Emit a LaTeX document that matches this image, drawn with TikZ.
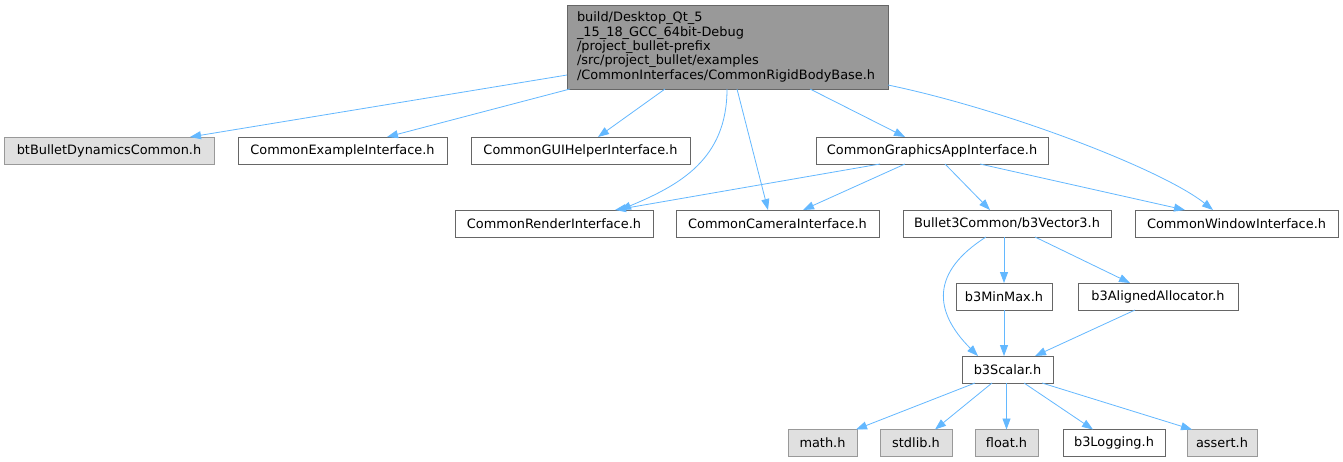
\documentclass[tikz,border=0pt]{standalone}
\usepackage{fontspec}
\setmainfont{DejaVu Sans}
\usetikzlibrary{arrows.meta}
\definecolor{edgecol}{HTML}{63B8FF}
\definecolor{rootfill}{HTML}{999999}
\definecolor{darkline}{HTML}{666666}
\definecolor{sysfill}{HTML}{E0E0E0}
\definecolor{sysline}{HTML}{999999}
\begin{document}
\begin{tikzpicture}[x=1pt,y=-1pt,
  every node/.style={font=\fontsize{12.9}{14.4}\selectfont, inner sep=0pt, outer sep=0pt},
  filebox/.style={draw=darkline, fill=white, line width=0.9pt, minimum height=27pt},
  sysbox/.style={draw=sysline, fill=sysfill, line width=0.9pt, minimum height=27pt},
  rootbox/.style={draw=darkline, fill=rootfill, line width=0.9pt, minimum height=84pt, minimum width=321pt, align=left, text width=301pt},
  dep/.style={draw=edgecol, line width=0.8pt, -{Triangle[length=11pt,width=8pt]}, fill=none}]
\useasboundingbox (0,0) rectangle (1343,461);
\fill[white] (0,0) rectangle (1343,461);

\node[rootbox] (root) at (727.5,47) {build/Desktop\_Qt\_5\\\_15\_18\_GCC\_64bit-Debug\\/project\_bullet-prefix\\/src/project\_bullet/examples\\/CommonInterfaces/CommonRigidBodyBase.h};

\node[sysbox, minimum width=210pt] (bt) at (109,150.5) {btBulletDynamicsCommon.h};
\node[filebox, minimum width=209pt] (cei) at (342.5,150.5) {CommonExampleInterface.h};
\node[filebox, minimum width=219pt] (cgui) at (580.5,150.5) {CommonGUIHelperInterface.h};
\node[filebox, minimum width=232pt] (cgai) at (932,150.5) {CommonGraphicsAppInterface.h};

\node[filebox, minimum width=198pt] (cri) at (554,223.5) {CommonRenderInterface.h};
\node[filebox, minimum width=203pt] (cci) at (777.5,223.5) {CommonCameraInterface.h};
\node[filebox, minimum width=208pt] (vec) at (1007,223.5) {Bullet3Common/b3Vector3.h};
\node[filebox, minimum width=203pt] (cwi) at (1236.5,223.5) {CommonWindowInterface.h};

\node[filebox, minimum width=96pt] (minmax) at (1004,296.5) {b3MinMax.h};
\node[filebox, minimum width=160pt] (alloc) at (1158,296.5) {b3AlignedAllocator.h};

\node[filebox, minimum width=91pt] (scalar) at (1007.5,369.5) {b3Scalar.h};

\node[sysbox, minimum width=69pt] (math) at (822.5,443) {math.h};
\node[sysbox, minimum width=72pt] (stdlib) at (916,443) {stdlib.h};
\node[sysbox, minimum width=63pt] (float) at (1006.5,443) {float.h};
\node[filebox, minimum width=102pt] (logging) at (1114,443) {b3Logging.h};
\node[sysbox, minimum width=70pt] (assert) at (1222,443) {assert.h};

% edges from root
\draw[dep] ([yshift=-28pt]root.west) -- ([xshift=186pt]bt.north west);
\draw[dep] ([xshift=3pt]root.south west) -- ([xshift=149pt]cei.north west);
\draw[dep] ([xshift=98pt]root.south west) -- ([xshift=127pt]cgui.north west);
\draw[dep] ([xshift=160pt]root.south west) .. controls +(0,70) and +(60,-25) .. ([xshift=165pt]cri.north west);
\draw[dep] ([xshift=170pt]root.south west) -- ([xshift=92pt]cci.north west);
\draw[dep] ([xshift=243pt]root.south west) -- ([xshift=89pt]cgai.north west);
\draw[dep] ([yshift=4pt]root.south east) .. controls +(120,25) and +(-50,-40) .. ([xshift=78pt]cwi.north west);

% edges from CommonGraphicsAppInterface
\draw[dep] ([xshift=64pt]cgai.south west) -- ([xshift=160pt]cri.north west);
\draw[dep] ([xshift=89pt]cgai.south west) -- ([xshift=127pt]cci.north west);
\draw[dep] ([xshift=129pt]cgai.south west) -- ([xshift=87pt]vec.north west);
\draw[dep] ([xshift=164pt]cgai.south west) -- ([xshift=50pt]cwi.north west);

% edges from b3Vector3
\draw[dep] ([xshift=83pt]vec.south west) .. controls +(-55,35) and +(-45,-45) .. ([xshift=16pt]scalar.north west);
\draw[dep] (vec.south -| minmax.north) -- (minmax.north);
\draw[dep] ([xshift=132pt]vec.south west) -- ([xshift=52pt]alloc.north west);

% into b3Scalar
\draw[dep] (minmax.south) -- (minmax.south |- scalar.north);
\draw[dep] ([xshift=57pt]alloc.south west) -- ([xshift=73pt]scalar.north west);

% from b3Scalar
\draw[dep] ([xshift=13pt]scalar.south west) -- ([xshift=68pt]math.north west);
\draw[dep] ([xshift=30pt]scalar.south west) -- ([xshift=55pt]stdlib.north west);
\draw[dep] (scalar.south -| float.north) -- (float.north);
\draw[dep] ([xshift=62pt]scalar.south west) -- ([xshift=30pt]logging.north west);
\draw[dep] ([xshift=80pt]scalar.south west) -- ([xshift=5pt]assert.north west);
\end{tikzpicture}
\end{document}
